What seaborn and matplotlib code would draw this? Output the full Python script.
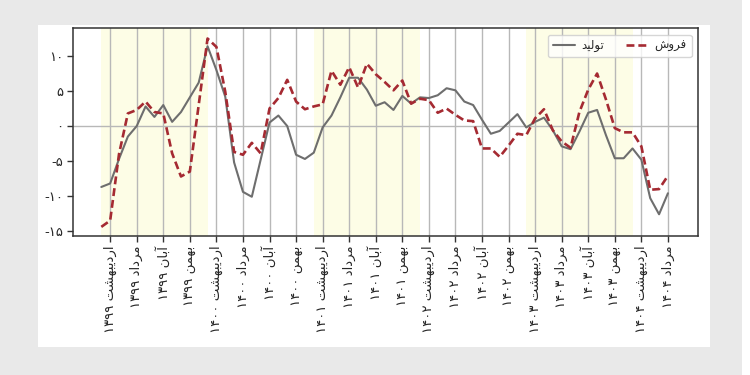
import numpy as np
import pandas as pd
import matplotlib
matplotlib.use("Agg")
import matplotlib.pyplot as plt
from matplotlib.patches import Rectangle
import seaborn as sns

# ---------------- data ----------------
months_fa = ["اردیبهشت", "مرداد", "آبان", "بهمن"]
tick_years = [1399, 1399, 1399, 1399, 1400, 1400, 1400, 1400, 1401, 1401, 1401,
              1401, 1402, 1402, 1402, 1402, 1403, 1403, 1403, 1403, 1404, 1404]
# monthly values, Farvardin 1399 .. Mordad 1404
production = [-8.7, -8.2, -4.7, -1.5, 0.0, 2.8, 1.3, 3.0, 0.6, 2.0, 4.1, 6.2, 11.4,
              8.0, 4.2, -5.2, -9.4, -10.1, -4.8, 0.5, 1.5, 0.0, -4.1, -4.7, -3.8,
              -0.2, 1.5, 4.1, 6.9, 6.9, 5.2, 2.9, 3.4, 2.3, 4.3, 3.2, 4.1, 4.0, 4.4,
              5.4, 5.1, 3.5, 3.0, 0.9, -1.1, -0.7, 0.5, 1.7, -0.2, 0.6, 1.2, -0.6,
              -2.9, -3.3, -0.8, 1.9, 2.3, -1.3, -4.6, -4.6, -3.2, -4.8, -10.3,
              -12.6, -9.6]
sales = [-14.4, -13.5, -4.0, 1.8, 2.3, 3.5, 2.0, 1.8, -3.9, -7.2, -6.5, 3.0, 12.5,
         11.3, 4.9, -3.7, -4.1, -2.4, -3.9, 2.5, 4.0, 6.6, 3.5, 2.4, 2.8, 3.1, 7.9,
         5.9, 8.4, 5.5, 8.9, 7.4, 6.3, 5.1, 6.5, 3.2, 3.9, 3.7, 1.9, 2.5, 1.6, 0.8,
         0.7, -3.2, -3.2, -4.4, -2.8, -1.1, -1.3, 1.1, 2.4, -0.6, -2.2, -3.1, 2.0,
         5.2, 7.5, 3.8, -0.3, -0.9, -0.9, -2.9, -9.1, -9.0, -7.1]
shaded_years = [(0, 12), (24, 36), (48, 60)]
label_prod = "تولید"
label_sales = "فروش"
yticks = [-15, -10, -5, 0, 5, 10]

# ---------------- Persian shaping (matplotlib has no bidi/shaping) ----------------
AR = {
    'ا': (0xFE8D, 0xFE8E), 'آ': (0xFE81, 0xFE82), 'د': (0xFEA9, 0xFEAA),
    'ر': (0xFEAD, 0xFEAE), 'و': (0xFEED, 0xFEEE),
    'ب': (0xFE8F, 0xFE90, 0xFE91, 0xFE92), 'ت': (0xFE95, 0xFE96, 0xFE97, 0xFE98),
    'ش': (0xFEB5, 0xFEB6, 0xFEB7, 0xFEB8), 'ف': (0xFED1, 0xFED2, 0xFED3, 0xFED4),
    'ل': (0xFEDD, 0xFEDE, 0xFEDF, 0xFEE0), 'م': (0xFEE1, 0xFEE2, 0xFEE3, 0xFEE4),
    'ن': (0xFEE5, 0xFEE6, 0xFEE7, 0xFEE8), 'ه': (0xFEE9, 0xFEEA, 0xFEEB, 0xFEEC),
    'ی': (0xFBFC, 0xFBFD, 0xFEF3, 0xFEF4),
}
DUAL = set('بتشفلمنهی')


def shape(s):
    out = []
    for i, ch in enumerate(s):
        if ch not in AR:
            out.append(ch)
            continue
        prev = s[i - 1] if i > 0 else ''
        nxt = s[i + 1] if i + 1 < len(s) else ''
        cp = prev in DUAL
        cn = ch in DUAL and nxt in AR
        f = AR[ch]
        if cp and cn:
            c = f[3]
        elif cp:
            c = f[1]
        elif cn:
            c = f[2]
        else:
            c = f[0]
        out.append(chr(c))
    return ''.join(reversed(out))


def fa_num(n):
    return ''.join(chr(0x6F0 + int(d)) for d in str(n))


# ---------------- plot ----------------
sns.set_style("ticks")
plt.rcParams['font.family'] = ['DejaVu Sans']

n = len(production)
df = pd.DataFrame({"m": np.arange(n), "prod": production, "sales": sales})

fig = plt.figure(figsize=(7.5, 3.75), dpi=100, facecolor="#e9e9e9")
fig.add_artist(Rectangle((0.0507, 0.0747), 0.896, 0.8587, transform=fig.transFigure,
                         facecolor="white", edgecolor="none", zorder=-10))
fig.add_artist(Rectangle((742 / 750, 0), 8 / 750, 1, transform=fig.transFigure,
                         facecolor="white", edgecolor="none", zorder=-10))
ax = fig.add_axes([0.0973, 0.3707, 0.8334, 0.5546])
ax.set_facecolor("white")

for a, b in shaded_years:
    ax.axvspan(a, b, color="#fdfde6", zorder=0, lw=0)

tick_pos = [1 + 3 * k for k in range(len(tick_years))]
for t in tick_pos:
    ax.axvline(t, color="#b8b8b8", lw=1.0, zorder=1)
ax.axhline(0, color="#b8b8b8", lw=1.0, zorder=1)

sns.lineplot(data=df, x="m", y="prod", ax=ax, color="#6e6e6e", lw=1.5,
             label=shape(label_prod), zorder=3)
sns.lineplot(data=df, x="m", y="sales", ax=ax, color="#a52a32", lw=1.9,
             label=shape(label_sales), zorder=4)
ax.lines[-1].set_dashes((3.0, 1.5))

ax.set_xlim(-3.2, 67.4)
ax.set_ylim(-15.7, 14.0)
ax.set_xticks(tick_pos)
ax.set_xticklabels([f"{fa_num(y)} {shape(months_fa[k % 4])}"
                    for k, y in enumerate(tick_years)], rotation=90, fontsize=9.5)
ax.set_yticks(yticks)
ax.set_yticklabels([("-" + fa_num(-v)) if v < 0 else fa_num(v) for v in yticks],
                   fontsize=9.5)
ax.set_xlabel("")
ax.set_ylabel("")
for s in ax.spines.values():
    s.set_color("#333333")
    s.set_linewidth(1.1)
ax.tick_params(axis="both", length=4, width=1, color="#333333", pad=3)

leg = ax.legend(loc="upper right", ncol=2, fontsize=8.5, frameon=True,
                handlelength=1.9, columnspacing=1.9, handletextpad=0.5,
                borderaxespad=0.55, fancybox=True)
leg.get_frame().set_edgecolor("#cccccc")

fig.savefig("out.png", dpi=100, facecolor=fig.get_facecolor())
